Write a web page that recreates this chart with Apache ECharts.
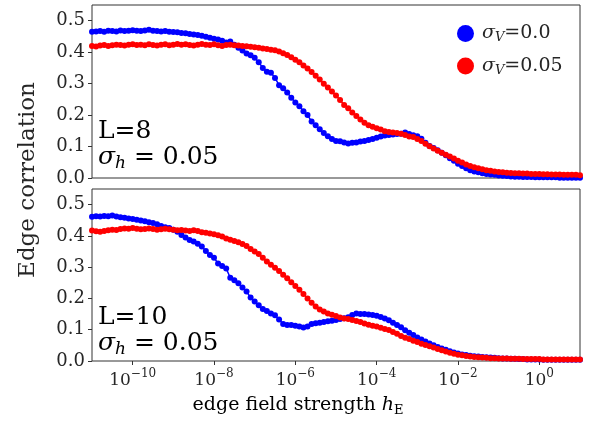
<!DOCTYPE html>
<html>
<head>
<meta charset="utf-8">
<script src="https://cdn.jsdelivr.net/npm/echarts@6.0.0/dist/echarts.min.js"></script>
<style>
  html, body { margin: 0; padding: 0; background: #fff; }
  #chart { width: 589px; height: 424px; }
</style>
</head>
<body>
<div id="chart"></div>
<script>
// log10 of the edge field strength h_E
const logH = [
  -11.0, -10.9, -10.8, -10.7, -10.6, -10.5, -10.4, -10.3, -10.2, -10.1,
  -10.0, -9.9, -9.8, -9.7, -9.6, -9.5, -9.4, -9.3, -9.2, -9.1,
  -9.0, -8.9, -8.8, -8.7, -8.6, -8.5, -8.4, -8.3, -8.2, -8.1,
  -8.0, -7.9, -7.8, -7.7, -7.6, -7.5, -7.4, -7.3, -7.2, -7.1,
  -7.0, -6.9, -6.8, -6.7, -6.6, -6.5, -6.4, -6.3, -6.2, -6.1,
  -6.0, -5.9, -5.8, -5.7, -5.6, -5.5, -5.4, -5.3, -5.2, -5.1,
  -5.0, -4.9, -4.8, -4.7, -4.6, -4.5, -4.4, -4.3, -4.2, -4.1,
  -4.0, -3.9, -3.8, -3.7, -3.6, -3.5, -3.4, -3.3, -3.2, -3.1,
  -3.0, -2.9, -2.8, -2.7, -2.6, -2.5, -2.4, -2.3, -2.2, -2.1,
  -2.0, -1.9, -1.8, -1.7, -1.6, -1.5, -1.4, -1.3, -1.2, -1.1,
  -1.0, -0.9, -0.8, -0.7, -0.6, -0.5, -0.4, -0.3, -0.2, -0.1,
  0.0, 0.1, 0.2, 0.3, 0.4, 0.5, 0.6, 0.7, 0.8, 0.9,
  1.0
];

// L=8, sigma_V = 0.0
const blueL8 = [
  0.465, 0.466, 0.467, 0.465, 0.468, 0.467, 0.466, 0.469, 0.467, 0.468,
  0.470, 0.468, 0.467, 0.469, 0.471, 0.468, 0.467, 0.466, 0.467, 0.465,
  0.464, 0.463, 0.461, 0.460, 0.458, 0.456, 0.455, 0.452, 0.449, 0.446,
  0.443, 0.440, 0.436, 0.431, 0.434, 0.424, 0.414, 0.405, 0.396, 0.390,
  0.382, 0.368, 0.350, 0.338, 0.335, 0.318, 0.295, 0.285, 0.272, 0.255,
  0.240, 0.228, 0.212, 0.200, 0.180, 0.168, 0.155, 0.143, 0.133, 0.124,
  0.118, 0.117, 0.113, 0.110, 0.112, 0.113, 0.116, 0.118, 0.121, 0.124,
  0.128, 0.132, 0.135, 0.137, 0.138, 0.140, 0.141, 0.145, 0.140, 0.136,
  0.133, 0.125, 0.112, 0.102, 0.095, 0.088, 0.080, 0.072, 0.063, 0.055,
  0.045, 0.038, 0.031, 0.025, 0.021, 0.018, 0.015, 0.013, 0.011, 0.010,
  0.008, 0.007, 0.006, 0.005, 0.004, 0.004, 0.003, 0.003, 0.003, 0.002,
  0.002, 0.002, 0.002, 0.002, 0.002, 0.001, 0.001, 0.001, 0.001, 0.001,
  0.001
];

// L=8, sigma_V = 0.05
const redL8 = [
  0.420, 0.418, 0.421, 0.423, 0.420, 0.422, 0.424, 0.423, 0.421, 0.424,
  0.425, 0.423, 0.424, 0.422, 0.425, 0.423, 0.421, 0.424, 0.425, 0.422,
  0.424, 0.426, 0.424, 0.425, 0.423, 0.421, 0.424, 0.426, 0.424, 0.423,
  0.425, 0.422, 0.420, 0.423, 0.424, 0.422, 0.421, 0.420, 0.419, 0.417,
  0.416, 0.414, 0.412, 0.410, 0.408, 0.406, 0.402, 0.397, 0.391, 0.384,
  0.376, 0.368, 0.358, 0.348, 0.337, 0.325, 0.313, 0.300, 0.288, 0.275,
  0.262, 0.248, 0.232, 0.222, 0.208, 0.197, 0.186, 0.176, 0.168, 0.163,
  0.158, 0.154, 0.149, 0.146, 0.145, 0.143, 0.141, 0.137, 0.132, 0.130,
  0.124, 0.118, 0.109, 0.101, 0.094, 0.087, 0.080, 0.074, 0.068, 0.062,
  0.055, 0.049, 0.043, 0.038, 0.034, 0.031, 0.028, 0.025, 0.023, 0.021,
  0.019, 0.018, 0.017, 0.016, 0.015, 0.015, 0.014, 0.014, 0.013, 0.013,
  0.013, 0.012, 0.012, 0.011, 0.011, 0.011, 0.010, 0.010, 0.010, 0.010,
  0.009
];

// L=10, sigma_V = 0.0
const blueL10 = [
  0.461, 0.463, 0.462, 0.464, 0.463, 0.465, 0.462, 0.460, 0.458, 0.456,
  0.454, 0.452, 0.449, 0.447, 0.444, 0.441, 0.437, 0.432, 0.428, 0.425,
  0.420, 0.413, 0.403, 0.395, 0.387, 0.382, 0.375, 0.366, 0.352, 0.339,
  0.330, 0.312, 0.304, 0.296, 0.266, 0.258, 0.249, 0.235, 0.222, 0.203,
  0.190, 0.178, 0.166, 0.160, 0.152, 0.146, 0.133, 0.118, 0.115, 0.115,
  0.113, 0.110, 0.107, 0.110, 0.118, 0.121, 0.122, 0.125, 0.127, 0.129,
  0.131, 0.134, 0.137, 0.140, 0.147, 0.152, 0.150, 0.150, 0.149, 0.147,
  0.145, 0.141, 0.136, 0.130, 0.122, 0.115, 0.108, 0.098, 0.090, 0.083,
  0.075, 0.069, 0.062, 0.056, 0.050, 0.045, 0.040, 0.036, 0.031, 0.027,
  0.024, 0.021, 0.019, 0.017, 0.015, 0.014, 0.013, 0.012, 0.011, 0.010,
  0.009, 0.008, 0.008, 0.007, 0.007, 0.006, 0.006, 0.005, 0.005, 0.005,
  0.005, 0.004, 0.004, 0.004, 0.004, 0.004, 0.004, 0.004, 0.004, 0.004,
  0.004
];

// L=10, sigma_V = 0.05
const redL10 = [
  0.417, 0.415, 0.413, 0.416, 0.418, 0.420, 0.419, 0.422, 0.424, 0.423,
  0.425, 0.423, 0.421, 0.422, 0.424, 0.422, 0.420, 0.421, 0.423, 0.421,
  0.420, 0.418, 0.419, 0.417, 0.416, 0.418, 0.416, 0.412, 0.410, 0.408,
  0.405, 0.402, 0.398, 0.392, 0.388, 0.384, 0.380, 0.374, 0.368, 0.358,
  0.350, 0.342, 0.330, 0.318, 0.308, 0.298, 0.288, 0.276, 0.265, 0.252,
  0.240, 0.228, 0.214, 0.200, 0.186, 0.174, 0.165, 0.158, 0.152, 0.148,
  0.144, 0.139, 0.136, 0.134, 0.131, 0.128, 0.125, 0.120, 0.116, 0.113,
  0.110, 0.106, 0.102, 0.099, 0.093, 0.087, 0.080, 0.074, 0.070, 0.065,
  0.061, 0.055, 0.051, 0.047, 0.043, 0.038, 0.034, 0.030, 0.026, 0.023,
  0.020, 0.018, 0.016, 0.014, 0.013, 0.012, 0.011, 0.010, 0.009, 0.009,
  0.008, 0.008, 0.008, 0.007, 0.007, 0.007, 0.006, 0.006, 0.006, 0.006,
  0.006, 0.005, 0.005, 0.005, 0.005, 0.005, 0.005, 0.005, 0.005, 0.005,
  0.005
];

const xTicks = [-10, -8, -6, -4, -2, 0];
const seriesNames = ['\u03c3V=0.0', '\u03c3V=0.05'];

const FONT = 'DejaVu Serif';
const TXT = '#262626';
const FRAME = '#333';

const chart = echarts.init(document.getElementById('chart'), null, { renderer: 'canvas' });

function xAxis(idx, showLabels) {
  return {
    type: 'value', gridIndex: idx, min: -11, max: 1,
    axisLine: { show: false, onZero: false },
    splitLine: { show: false },
    axisTick: {
      show: showLabels, inside: false, length: 4,
      customValues: xTicks,
      lineStyle: { color: FRAME, width: 1 }
    },
    axisLabel: {
      show: showLabels, margin: 7,
      customValues: xTicks,
      formatter: v => '{b|10}{s|' + (v < 0 ? '\u2212' + (-v) : v) + '}',
      rich: {
        b: { fontFamily: FONT, fontSize: 17, color: TXT, lineHeight: 26 },
        s: { fontFamily: FONT, fontSize: 12, color: TXT, lineHeight: 12, verticalAlign: 'top' }
      }
    }
  };
}

function yAxis(idx) {
  return {
    type: 'value', gridIndex: idx, min: 0, max: 0.55, interval: 0.1,
    axisLine: { show: false, onZero: false },
    splitLine: { show: false },
    axisTick: {
      show: true, length: 4,
      lineStyle: { color: FRAME, width: 1 }
    },
    axisLabel: {
      margin: 7, showMaxLabel: false,
      fontFamily: FONT, fontSize: 18, color: TXT,
      formatter: v => (v > 0.52 ? '' : v.toFixed(1))
    }
  };
}

function mk(name, color, vals, idx) {
  return {
    name, type: 'line', xAxisIndex: idx, yAxisIndex: idx,
    data: logH.map((x, i) => [x, vals[i]]),
    symbol: 'circle', symbolSize: 6, showSymbol: true,
    itemStyle: { color },
    lineStyle: { color, width: 1.5 },
    animation: false
  };
}

const richText = {
  t: { fontFamily: FONT, fontSize: 25, color: TXT, lineHeight: 30 },
  i: { fontFamily: FONT, fontSize: 25, fontStyle: 'italic', color: TXT, lineHeight: 30 },
  sub: { fontFamily: FONT, fontSize: 17, fontStyle: 'italic', color: TXT, lineHeight: 17, verticalAlign: 'bottom' }
};

function label(x, y, text) {
  return {
    type: 'text', x, y,
    style: { text, rich: richText, align: 'left', verticalAlign: 'middle' }
  };
}

const option = {
  backgroundColor: '#fff',
  animation: false,
  grid: [
    { left: 92, top: 5, right: 9, height: 173, show: true, borderColor: FRAME, borderWidth: 1, backgroundColor: 'transparent' },
    { left: 92, top: 189, right: 9, height: 172, show: true, borderColor: FRAME, borderWidth: 1, backgroundColor: 'transparent' }
  ],
  legend: {
    data: seriesNames,
    orient: 'vertical',
    left: 457, top: 24,
    padding: 0,
    itemGap: 12,
    itemWidth: 17, itemHeight: 17,
    icon: 'circle',
    formatter: n => '{s|\u03c3}{v|V}{t|' + n.slice(2) + '}',
    textStyle: {
      padding: [0, 0, 0, 3],
      rich: {
        s: { fontFamily: FONT, fontSize: 19, fontStyle: 'italic', color: TXT, lineHeight: 22 },
        v: { fontFamily: FONT, fontSize: 13, fontStyle: 'italic', color: TXT, lineHeight: 13, verticalAlign: 'bottom' },
        t: { fontFamily: FONT, fontSize: 19, color: TXT, lineHeight: 22 }
      }
    }
  },
  xAxis: [xAxis(0, false), xAxis(1, true)],
  yAxis: [yAxis(0), yAxis(1)],
  series: [
    mk(seriesNames[0], '#0000ff', blueL8, 0),
    mk(seriesNames[1], '#ff0000', redL8, 0),
    mk(seriesNames[0], '#0000ff', blueL10, 1),
    mk(seriesNames[1], '#ff0000', redL10, 1)
  ],
  graphic: [
    {
      type: 'text', x: 28, y: 180, rotation: Math.PI / 2,
      style: { text: 'Edge correlation', fontFamily: FONT, fontSize: 23, fill: TXT, align: 'center', verticalAlign: 'middle' }
    },
    {
      type: 'text', x: 298, y: 405,
      style: {
        text: '{t|edge field strength }{h|h}{e|E}',
        align: 'center', verticalAlign: 'middle',
        rich: {
          t: { fontFamily: FONT, fontSize: 19, color: TXT, lineHeight: 24 },
          h: { fontFamily: FONT, fontSize: 19, fontStyle: 'italic', color: TXT, lineHeight: 24 },
          e: { fontFamily: FONT, fontSize: 13, color: TXT, lineHeight: 13, verticalAlign: 'bottom' }
        }
      }
    },
    label(98, 131, '{t|L=8}'),
    label(98, 157, '{i|\u03c3}{sub|h}{t| = 0.05}'),
    label(98, 317, '{t|L=10}'),
    label(98, 343, '{i|\u03c3}{sub|h}{t| = 0.05}')
  ]
};

chart.setOption(option);
</script>
</body>
</html>
